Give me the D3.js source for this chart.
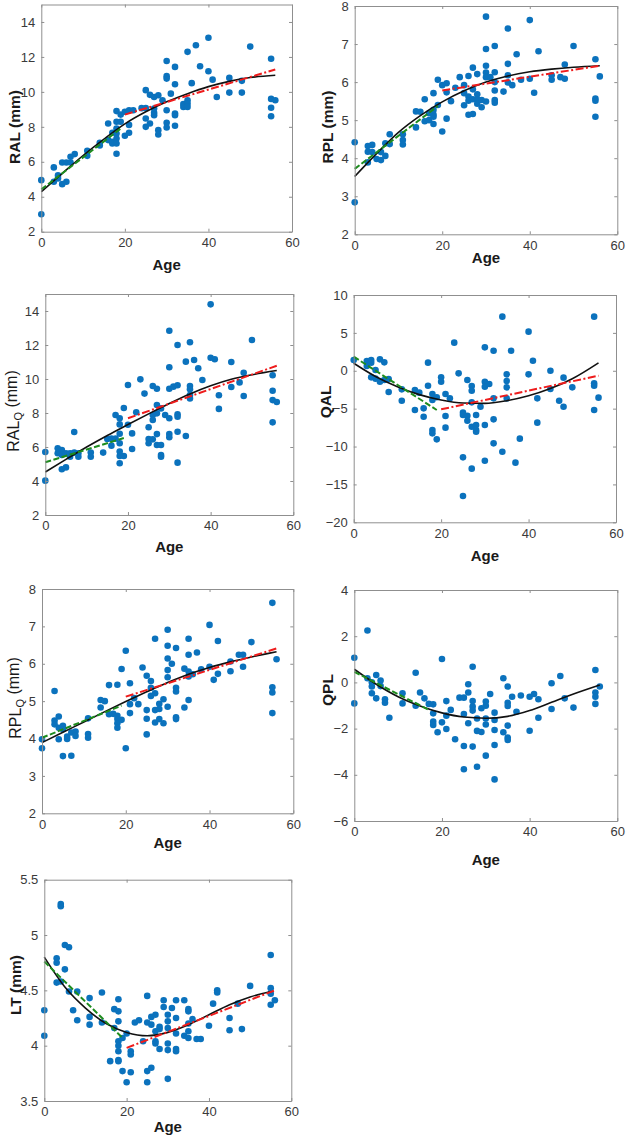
<!DOCTYPE html>
<html><head><meta charset="utf-8">
<script src="https://cdn.jsdelivr.net/npm/d3@7"></script>
<style>body{margin:0;background:#fff}svg{display:block}</style>
</head><body>
<script>
// ---------- DATA (age, value) ----------
const xTicks = [0, 20, 40, 60];

const ralPoints = [[0,4.95],[0,3.0],[3,5.68],[3,4.86],[4,5.22],[4,5.05],[5,4.72],[5,5.96],[6,4.86],[6,5.96],[7,6.29],[7,5.96],[8,6.44],[11,6.34],[11,6.63],[14,6.93],[14,7.09],[16,8.19],[16,7.24],[17,7.66],[17,7.14],[17,7.05],[18,8.9],[18,8.29],[18,7.9],[18,7.62],[18,7.33],[18,7.05],[18,6.46],[19,8.7],[19,8.29],[20,8.86],[20,7.49],[21,8.95],[21,8.11],[21,7.66],[22,8.95],[24,9.07],[25,10.1],[25,8.48],[25,8.0],[25,9.07],[26,9.83],[26,8.19],[27,9.71],[27,9.05],[27,8.8],[27,8.67],[28,9.81],[28,7.81],[28,7.56],[29,9.52],[30,11.77],[30,10.9],[30,10.76],[30,8.95],[30,8.23],[30,7.96],[31,9.9],[32,11.43],[32,10.44],[32,8.76],[32,8.67],[32,8.06],[34,9.3],[34,9.14],[35,12.29],[35,9.52],[35,9.33],[35,9.14],[36,10.5],[37,12.67],[38,11.47],[40,13.1],[40,11.18],[41,10.7],[42,9.71],[45,10.8],[45,9.96],[48,10.63],[48,9.96],[50,12.59],[55,11.9],[55,9.6],[55,9.09],[55,8.61],[56,9.52]];
const ralFit = [[0,4.29],[5,5.33],[10,6.36],[15,7.3],[20,8.17],[25,8.86],[30,9.43],[35,9.9],[40,10.3],[45,10.6],[50,10.82],[56,10.95]];
const ralGreen = [[0,4.42],[19,7.9]];
const ralRed = [[20,8.7],[56,11.28]];

const rplPoints = [[0,4.42],[0,2.84],[3,4.32],[3,4.17],[3,3.89],[4,4.35],[4,4.16],[5,3.98],[6,4.16],[6,3.95],[7,4.06],[7,4.39],[8,4.63],[8,4.37],[11,4.63],[11,4.48],[11,4.36],[14,5.23],[14,4.81],[15,5.22],[16,5.55],[16,4.97],[17,5.0],[17,5.18],[18,5.71],[18,5.27],[18,5.15],[18,5.09],[18,4.9],[19,6.06],[19,5.4],[20,4.7],[20,5.92],[21,5.97],[21,5.73],[21,5.04],[22,5.5],[23,5.85],[24,6.13],[25,5.92],[25,5.71],[25,5.39],[26,6.16],[26,5.62],[26,5.51],[26,5.14],[27,6.38],[27,5.81],[27,5.55],[27,5.16],[28,6.21],[28,5.68],[28,5.55],[28,5.43],[29,5.53],[29,5.34],[30,7.72],[30,6.87],[30,6.43],[30,6.25],[30,6.13],[30,5.49],[31,6.13],[32,6.95],[32,6.26],[32,6.0],[32,5.78],[32,5.53],[32,5.46],[34,5.75],[35,7.41],[35,6.48],[35,6.18],[35,5.99],[36,5.92],[37,6.73],[38,6.06],[40,7.63],[40,6.09],[41,5.72],[42,6.81],[45,6.18],[45,6.06],[47,6.13],[48,6.46],[48,6.09],[50,6.95],[55,6.6],[55,5.57],[55,5.51],[55,5.09],[56,6.15]];
const rplFit = [[0,3.52],[5,4.12],[10,4.68],[15,5.12],[20,5.48],[25,5.77],[30,6.0],[35,6.16],[40,6.27],[45,6.34],[50,6.39],[56,6.43]];
const rplGreen = [[0,3.72],[19,5.37]];
const rplRed = [[20,5.78],[56,6.43]];

const ralqPoints = [[0,5.71],[0,4.02],[3,5.92],[3,5.63],[4,5.82],[4,4.69],[4,5.53],[5,5.63],[5,4.8],[6,5.63],[6,5.43],[7,6.88],[7,5.67],[8,5.63],[8,5.43],[11,5.67],[11,5.43],[14,5.67],[15,6.47],[16,6.49],[16,6.08],[17,7.88],[17,6.49],[18,7.69],[18,7.33],[18,6.78],[18,6.22],[18,5.73],[18,5.47],[18,5.04],[19,8.29],[19,5.47],[20,9.65],[20,7.31],[21,6.8],[21,5.88],[22,8.04],[23,9.98],[24,9.14],[25,7.16],[25,6.47],[25,6.22],[26,9.59],[26,7.88],[26,7.59],[26,6.45],[27,9.43],[27,8.47],[27,7.98],[27,6.76],[27,6.12],[28,8.27],[28,6.12],[28,5.53],[28,5.43],[29,7.88],[30,12.84],[30,10.69],[30,9.43],[30,7.69],[30,6.76],[30,6.57],[31,9.55],[32,12.0],[32,9.63],[32,7.92],[32,7.78],[32,6.9],[32,5.08],[34,11.02],[34,6.65],[35,12.16],[35,9.59],[35,9.39],[35,9.06],[35,8.86],[36,11.12],[37,10.63],[38,9.94],[40,14.39],[40,11.25],[41,11.16],[42,9.04],[42,8.24],[45,11.0],[45,9.53],[47,9.8],[48,10.37],[48,9.0],[50,12.29],[55,10.22],[55,9.31],[55,8.76],[55,7.45],[56,8.65]];
const ralqFit = [[0,4.53],[5,5.27],[10,6.0],[15,6.68],[20,7.32],[25,7.95],[30,8.56],[35,9.12],[40,9.6],[45,9.98],[50,10.25],[56,10.5]];
const ralqGreen = [[0,5.1],[19,6.53]];
const ralqRed = [[20,7.69],[56,10.78]];

const qalPoints = [[0,1.42],[3,1.29],[3,0.63],[4,1.42],[4,1.07],[4,-0.87],[5,0.1],[5,-1.04],[6,1.51],[6,-1.44],[7,1.11],[7,-1.22],[8,-1.09],[8,-2.8],[11,-2.45],[11,-3.95],[14,-2.54],[14,-5.18],[15,-2.89],[16,-4.96],[16,-6.06],[17,1.07],[17,-1.97],[18,-3.07],[18,-3.86],[18,-7.82],[18,-8.26],[19,-3.5],[19,-9.05],[20,-0.87],[20,-1.44],[21,-3.07],[21,-5.97],[21,-7.51],[22,-3.64],[23,3.71],[24,-0.34],[25,-5.53],[25,-5.84],[25,-11.43],[25,-16.53],[26,-1.22],[26,-5.93],[26,-6.59],[27,-2.01],[27,-2.63],[27,-4.17],[27,-7.38],[27,-12.92],[28,-5.84],[28,-7.16],[28,-7.82],[28,-8.04],[29,-4.74],[30,3.09],[30,-1.44],[30,-2.1],[30,-7.16],[30,-11.87],[31,-1.75],[32,2.65],[32,-3.64],[32,-6.41],[32,-9.58],[34,7.14],[34,-10.68],[35,-0.47],[35,-1.35],[35,-2.19],[35,-3.64],[36,2.65],[37,-12.13],[38,-8.96],[40,5.16],[40,-0.47],[41,1.33],[42,-3.64],[42,-6.85],[45,0.01],[45,-2.41],[47,-3.95],[48,-0.91],[48,-4.74],[50,-2.19],[55,7.14],[55,-1.66],[55,-1.97],[55,-5.18],[56,-3.55]];
const qalFit = [[0,1.0],[5,-0.75],[10,-2.1],[15,-3.15],[20,-3.85],[25,-4.25],[30,-4.3],[35,-3.95],[40,-3.3],[45,-2.35],[50,-1.05],[56,1.05]];
const qalGreen = [[0,1.86],[19,-5.18]];
const qalRed = [[20,-5.09],[56,-0.65]];

const rplqPoints = [[0,3.98],[0,3.74],[3,5.27],[3,4.48],[3,4.38],[4,4.59],[4,4.29],[4,3.98],[5,4.34],[5,4.25],[5,3.53],[6,4.05],[6,3.99],[7,4.16],[7,3.54],[8,4.19],[8,4.07],[11,4.12],[11,4.02],[11,4.54],[14,5.03],[14,4.83],[15,5.0],[16,5.43],[16,4.65],[17,4.66],[18,5.44],[18,4.61],[18,4.52],[18,4.41],[18,4.29],[19,5.86],[19,4.5],[20,6.35],[20,3.74],[21,5.48],[21,4.92],[21,4.68],[22,5.08],[23,4.92],[24,5.9],[25,5.68],[25,4.76],[25,4.53],[25,4.11],[26,5.54],[26,5.36],[26,5.14],[27,6.67],[27,5.21],[27,4.76],[27,4.43],[28,4.93],[28,4.79],[28,4.52],[29,5.05],[29,4.41],[30,6.91],[30,6.48],[30,6.14],[30,5.83],[30,5.64],[30,4.85],[31,6.0],[32,6.42],[32,5.36],[32,5.26],[32,4.57],[32,4.52],[34,5.87],[34,4.83],[35,6.67],[35,6.24],[35,5.79],[35,5.66],[35,5.03],[36,5.72],[37,6.3],[38,5.85],[40,7.04],[40,5.92],[41,5.57],[42,6.61],[42,5.73],[45,6.06],[45,5.8],[47,6.24],[48,6.24],[48,5.92],[50,6.58],[55,7.63],[55,5.37],[55,5.23],[55,4.68],[56,6.12]];
const rplqFit = [[0,3.89],[5,4.17],[10,4.44],[15,4.72],[20,4.99],[25,5.25],[30,5.5],[35,5.72],[40,5.9],[45,6.05],[50,6.18],[56,6.32]];
const rplqGreen = [[0,4.02],[19,4.88]];
const rplqRed = [[20,5.12],[56,6.41]];

const qplPoints = [[0,1.07],[0,-0.91],[3,2.25],[3,0.18],[4,0.0],[4,-0.18],[4,-0.47],[5,0.32],[5,-0.69],[6,0.08],[6,-0.16],[7,-0.73],[7,-0.88],[8,-1.53],[11,-0.47],[11,-0.91],[14,0.42],[14,-1.01],[15,-0.44],[16,-0.69],[17,-0.93],[18,-0.95],[18,-1.34],[18,-1.7],[18,-1.84],[19,-2.16],[20,1.01],[20,-1.73],[21,-0.81],[21,-1.44],[21,-2.02],[22,-1.19],[23,-2.46],[24,-0.66],[25,-0.66],[25,-1.37],[25,-2.75],[25,-3.76],[26,-0.08],[26,-0.44],[26,-1.77],[27,0.68],[27,-0.81],[27,-1.05],[27,-1.22],[27,-2.78],[28,-1.56],[28,-2.1],[28,-3.65],[29,-1.12],[29,-2.15],[30,-0.83],[30,-1.01],[30,-1.56],[30,-1.82],[30,-3.17],[31,-0.5],[32,-1.31],[32,-1.63],[32,-2.06],[32,-2.71],[32,-4.2],[34,0.18],[34,-2.16],[35,-0.18],[35,-0.88],[35,-1.02],[35,-1.87],[35,-2.39],[35,-2.49],[36,-0.62],[37,-1.27],[38,-0.57],[40,-0.62],[40,-2.09],[41,-0.5],[42,-0.73],[42,-1.53],[45,-0.04],[45,-1.15],[47,0.28],[48,-0.69],[50,-1.09],[55,0.54],[55,-0.44],[55,-0.62],[55,-0.93],[56,-0.18]];
const qplFit = [[0,0.57],[5,-0.08],[10,-0.62],[15,-1.02],[20,-1.32],[25,-1.5],[30,-1.55],[35,-1.47],[40,-1.22],[45,-0.86],[50,-0.5],[56,-0.11]];
const qplGreen = [[0,0.46],[17,-1.19]];
const qplRed = [];

const ltPoints = [[0,4.32],[0,4.09],[3,4.79],[3,4.75],[3,4.57],[4,5.28],[4,5.26],[4,4.58],[5,4.91],[5,4.69],[6,4.89],[6,4.49],[7,4.32],[8,4.49],[8,4.23],[11,4.43],[11,4.26],[11,4.19],[14,4.48],[14,4.21],[16,3.86],[17,4.33],[17,4.16],[18,4.42],[18,4.31],[18,4.22],[18,4.04],[18,4.0],[18,3.95],[18,3.87],[18,3.86],[19,4.07],[19,3.77],[20,4.11],[20,3.67],[21,3.95],[21,3.92],[21,3.76],[22,4.21],[23,4.23],[24,4.04],[25,4.45],[25,4.21],[25,3.77],[25,3.67],[26,4.26],[26,4.19],[26,3.8],[27,4.28],[27,4.13],[27,4.04],[27,4.02],[28,4.17],[28,4.15],[28,3.97],[29,4.41],[29,4.35],[30,4.28],[30,4.22],[30,4.16],[30,4.02],[30,3.96],[30,3.7],[31,4.34],[32,4.41],[32,4.25],[32,4.11],[32,3.97],[32,3.95],[34,4.41],[34,4.09],[35,4.33],[35,4.31],[35,4.2],[35,4.13],[35,4.07],[36,4.24],[37,4.06],[38,4.06],[40,4.18],[41,4.38],[42,4.5],[42,4.48],[45,4.25],[45,4.14],[47,4.38],[48,4.15],[50,4.54],[55,4.82],[55,4.52],[55,4.47],[55,4.37],[56,4.41]];
const ltFit = [[0,4.8],[5,4.53],[10,4.34],[15,4.2],[20,4.12],[25,4.09],[30,4.12],[35,4.19],[40,4.28],[45,4.37],[50,4.44],[55,4.49]];
const ltGreen = [[0,4.76],[19,4.07]];
const ltRed = [[20,3.98],[56,4.5]];

const yLabels = ["RAL", "RPL", "RAL", "QAL", "RPL", "QPL", "LT"];
const ySubs = ["", "", "Q", "", "Q", "", ""];
const yUnits = [" (mm)", " (mm)", " (mm)", "", " (mm)", "", " (mm)"];
const yDomains = [[2,15],[2,8],[2,15],[-20,10],[2,8],[-6,4],[3.5,5.5]];
const yTickSets = [[2,4,6,8,10,12,14],[2,3,4,5,6,7,8],[2,4,6,8,10,12,14],[-20,-15,-10,-5,0,5,10],[2,3,4,5,6,7,8],[-6,-4,-2,0,2,4],[3.5,4,4.5,5,5.5]];
const xLabel = "Age";

// ---------- LAYOUT ----------
const W = 626, H = 1136;
const layout = [
  {L:41.3, R:292,   T:4.5,   B:231.7, lx:14,  ly:127, ageY:265},
  {L:354.7,R:617.3, T:6,     B:234.3, lx:327, ly:127, ageY:258},
  {L:45.3, R:293.3, T:294,   B:515,   lx:13,  ly:411, ageY:547},
  {L:353.7,R:616,   T:295,   B:522.3, lx:325, ly:402, ageY:556},
  {L:42,   R:293.3, T:589,   B:813.3, lx:15,  ly:698, ageY:843},
  {L:354.3,R:617.3, T:590,   B:821,   lx:327, ly:690, ageY:860},
  {L:44.3, R:291.3, T:879.7, B:1101,  lx:15,  ly:985, ageY:1127}
];
const series = [
  [ralPoints, ralFit, ralGreen, ralRed],
  [rplPoints, rplFit, rplGreen, rplRed],
  [ralqPoints, ralqFit, ralqGreen, ralqRed],
  [qalPoints, qalFit, qalGreen, qalRed],
  [rplqPoints, rplqFit, rplqGreen, rplqRed],
  [qplPoints, qplFit, qplGreen, qplRed],
  [ltPoints, ltFit, ltGreen, ltRed]
];

const FONT = "'Liberation Sans', Arial, Helvetica, sans-serif";
const svg = d3.select("body").append("svg").attr("width", W).attr("height", H)
  .style("background", "#fff");

layout.forEach((p, i) => {
  const [pts, fit, green, red] = series[i];
  const x = d3.scaleLinear().domain([0, 60]).range([p.L, p.R]);
  const y = d3.scaleLinear().domain(yDomains[i]).range([p.B, p.T]);
  const g = svg.append("g");

  g.append("rect").attr("x", p.L).attr("y", p.T).attr("width", p.R - p.L).attr("height", p.B - p.T)
    .attr("fill", "#fff");

  g.append("g").selectAll("circle").data(pts).join("circle")
    .attr("cx", d => x(d[0])).attr("cy", d => y(d[1])).attr("r", 3.3)
    .attr("fill", "#0b72bd");

  const line = d3.line().x(d => x(d[0])).y(d => y(d[1]));
  g.append("path").datum(fit).attr("d", line.curve(d3.curveMonotoneX))
    .attr("fill", "none").attr("stroke", "#111").attr("stroke-width", 1.6);
  const lin = d3.line().x(d => x(d[0])).y(d => y(d[1]));
  if (green.length) g.append("path").datum(green).attr("d", lin)
    .attr("fill", "none").attr("stroke", "#1e8c1e").attr("stroke-width", 2)
    .attr("stroke-dasharray", "6,2.5");
  if (red.length) g.append("path").datum(red).attr("d", lin)
    .attr("fill", "none").attr("stroke", "#ee1c1c").attr("stroke-width", 2)
    .attr("stroke-dasharray", "8,2.5,2,2.5");

  const tickLen = 3;
  const axBottom = d3.axisBottom(x).tickValues(xTicks).tickSizeInner(-tickLen).tickSizeOuter(0).tickPadding(6);
  const axTop = d3.axisTop(x).tickValues(xTicks).tickSizeInner(-tickLen).tickSizeOuter(0).tickFormat("");
  const axLeft = d3.axisLeft(y).tickValues(yTickSets[i]).tickSizeInner(-tickLen).tickSizeOuter(0).tickPadding(6).tickFormat(d3.format("~g"));
  const axRight = d3.axisRight(y).tickValues(yTickSets[i]).tickSizeInner(-tickLen).tickSizeOuter(0).tickFormat("");
  const axs = [
    g.append("g").attr("transform", `translate(0,${p.B})`).call(axBottom),
    g.append("g").attr("transform", `translate(0,${p.T})`).call(axTop),
    g.append("g").attr("transform", `translate(${p.L},0)`).call(axLeft),
    g.append("g").attr("transform", `translate(${p.R},0)`).call(axRight)
  ];
  axs.forEach(a => {
    a.select(".domain").attr("stroke", "#8f8f8f").attr("stroke-width", 1);
    a.selectAll(".tick line").attr("stroke", "#8f8f8f");
    a.selectAll("text").attr("fill", "#3a3a3a").style("font-family", FONT).style("font-size", "13px");
  });

  g.append("text").attr("x", (p.L + p.R) / 2).attr("y", p.ageY).attr("dy", "0.36em")
    .attr("text-anchor", "middle").style("font-family", FONT).style("font-size", "15px")
    .style("font-weight", "bold").attr("fill", "#1a1a1a").text(xLabel);

  const hasSub = !!ySubs[i];
  const yl = g.append("text").attr("transform", `translate(${p.lx},${p.ly}) rotate(-90)`)
    .attr("dy", "0.36em").attr("text-anchor", "middle").style("font-family", FONT)
    .style("font-size", hasSub ? "16px" : "15.5px").style("font-weight", hasSub ? "normal" : "bold")
    .attr("fill", "#1a1a1a");
  yl.append("tspan").text(yLabels[i]);
  if (hasSub) yl.append("tspan").attr("dy", "0.3em").style("font-size", "11px").text(ySubs[i]);
  if (yUnits[i]) yl.append("tspan").attr("dy", hasSub ? "-0.3em" : 0).text(yUnits[i]);
});
</script>
</body></html>
